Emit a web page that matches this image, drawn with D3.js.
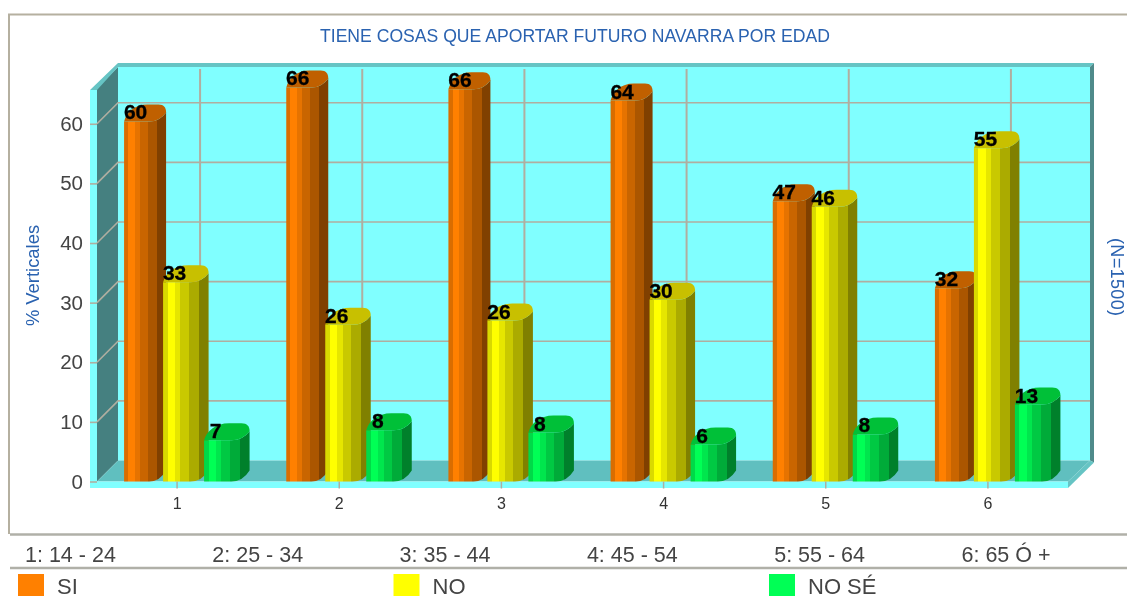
<!DOCTYPE html>
<html><head><meta charset="utf-8">
<script src="https://cdn.jsdelivr.net/npm/d3@7/dist/d3.min.js"></script>
<style>html,body{margin:0;padding:0;background:#fff;overflow:hidden}svg{display:block;filter:blur(.4px)}text{font-family:"Liberation Sans",Arial,sans-serif}</style>
</head><body><svg id="c" width="1127" height="596"></svg>
<script>
const title = "TIENE COSAS QUE APORTAR FUTURO NAVARRA POR EDAD";
const categories = ["1","2","3","4","5","6"];
const ageGroups = ["1: 14 - 24","2: 25 - 34","3: 35 - 44","4: 45 - 54","5: 55 - 64","6: 65 Ó +"];
const seriesNames = ["SI","NO","NO SÉ"];
const siValues = [60.4,66.1,65.8,63.9,47.0,32.4];
const noValues = [33.4,26.3,27.0,30.5,46.1,55.9];
const nsValues = [6.9,8.6,8.2,6.2,7.9,12.9];
const siLabels = [60,66,66,64,47,32];
const noLabels = [33,26,26,30,46,55];
const nsLabels = [7,8,8,6,8,13];
const yTicks = [0,10,20,30,40,50,60];
const seriesValues = [siValues,noValues,nsValues];
const seriesLabels = [siLabels,noLabels,nsLabels];
const seriesColors = ["#ff8000","#ffff00","#00ff55"];
const capColors = ["#c06000","#c8c000","#00c038"];

const svg = d3.select("#c");
const left=97, right=1068, y0=481.5, yTop=88, depth=21;
const x = d3.scaleBand().domain(categories).range([96,1069]);
const y = d3.scaleLinear().domain([0,66]).range([y0,yTop]);
const wallC="#80ffff", gridC="#b0aea0";
const poly=(pts,fill)=>svg.append("polygon").attr("points",pts.map(p=>p.join(",")).join(" ")).attr("fill",fill);

// frame
svg.append("path").attr("d","M9,534V14.5H1127").attr("fill","none").attr("stroke","#b5b0a0").attr("stroke-width",2);
[534.5,568].forEach(v=>svg.append("line").attr("x1",10).attr("x2",1127).attr("y1",v).attr("y2",v).attr("stroke","#b0b0a8").attr("stroke-width",2.5));

// 3D box
const bL=left+depth, bR=right+depth+1, bB=y0-depth, bT=yTop-depth;
poly([[bL,bT],[bR,bT],[bR,bB],[bL,bB]],wallC);
poly([[left,yTop],[bL,bT],[bL,bB],[left,y0]],"#458080");
poly([[left,y0],[bL,bB],[bR,bB],[right,y0]],"#60bfbf");
poly([[90,90],[bL,63],[bR+4,63],[bR,bT],[bL,bT],[left,yTop+2]],"#66c4c4");
poly([[90,90],[left,90],[left,y0],[right,y0],[right,488],[90,488]],wallC);
poly([[bR,bT],[bR+4,63],[bR+4,bB+2],[bR,bB]],"#4f8a8a");
poly([[right,y0],[bR,bB],[bR+4,bB+2],[right,488]],"#66c4c4");

// grid
const gridG=svg.append("g").attr("stroke",gridC).attr("stroke-width",2).attr("fill","none");
gridG.selectAll(".h").data(yTicks.filter(d=>d>0)).join("path")
  .attr("d",d=>`M${left},${y(d)}L${bL},${y(d)-depth}H${bR}`).attr("stroke-width",1.6);
gridG.selectAll(".v").data(categories).join("line")
  .attr("x1",d=>x(d)+x.bandwidth()/2+depth+2).attr("x2",d=>x(d)+x.bandwidth()/2+depth+2)
  .attr("y1",bT+2).attr("y2",bB);

// axes
const yAxis=svg.append("g").attr("transform",`translate(${left},0)`)
  .call(d3.axisLeft(y).tickValues(yTicks).tickSize(7).tickPadding(7));
yAxis.select(".domain").remove();
yAxis.selectAll("line").attr("stroke",gridC).attr("stroke-width",1.6);
yAxis.selectAll("text").attr("font-size",20.5).attr("fill","#444").style("font-family",'"Liberation Sans"');
const xAxis=svg.append("g").attr("transform",`translate(0,${y0})`)
  .call(d3.axisBottom(x).tickSize(7).tickPadding(9));
xAxis.select(".domain").remove();
xAxis.selectAll("line").attr("stroke",gridC).attr("stroke-width",1.5);
xAxis.selectAll("text").attr("font-size",16).attr("fill","#333").style("font-family",'"Liberation Sans"');

// bar gradients
const defs=svg.append("defs");
const bands=[[0,.85],[.1,1],[.26,.9],[.38,.79],[.57,.67],[.79,.5]];
seriesColors.forEach((c,i)=>{
  const g=defs.append("linearGradient").attr("id","bar"+i);
  bands.forEach((b,j)=>{
    const col=d3.rgb(c); const k=b[1];
    const s=`rgb(${col.r*k},${col.g*k},${col.b*k})`;
    g.append("stop").attr("offset",b[0]).attr("stop-color",s);
    const next=j<bands.length-1?bands[j+1][0]:1;
    g.append("stop").attr("offset",next).attr("stop-color",s);
  });
});

// bars
const barOffset=[-53,-14,27], barWidth=[42,45.5,45.5];
const xPos=(cat,s)=>x(cat)+x.bandwidth()/2+barOffset[s];
const labelG=[];
categories.forEach((cat,ci)=>{
  seriesValues.forEach((vals,s)=>{
    const x0=xPos(cat,s), w=barWidth[s], t=y(vals[ci]);
    svg.append("path").attr("fill",`url(#bar${s})`)
      .attr("d",`M${x0},${y0}V${t}H${x0+.6*w}Q${x0+.85*w},${t} ${x0+w},${t-9}V${y0-11}Q${x0+.85*w},${y0} ${x0+.6*w},${y0}Z`);
    svg.append("path").attr("fill",capColors[s])
      .attr("d",`M${x0},${t}C${x0+.05*w},${t-9} ${x0+.25*w},${t-17} ${x0+.55*w},${t-17}H${x0+.82*w}C${x0+.95*w},${t-17} ${x0+w},${t-14} ${x0+w},${t-9}Q${x0+.85*w},${t} ${x0+.6*w},${t}Z`);
    labelG.push({x:x0+11.5,y:t-2,l:seriesLabels[s][ci]});
  });
});
svg.append("g").selectAll("text").data(labelG).join("text")
  .attr("x",d=>d.x).attr("y",d=>d.y).attr("text-anchor","middle")
  .attr("font-size",21).attr("font-weight","bold").attr("fill","#000")
  .attr("stroke","#000").attr("stroke-width",.3).text(d=>d.l);

// titles
svg.append("text").attr("x",575).attr("y",42).attr("text-anchor","middle").attr("font-size",17.6).attr("fill","#2a62b0").text(title);
svg.append("text").attr("transform","translate(39,275.5) rotate(-90)").attr("text-anchor","middle").attr("font-size",18.4).attr("fill","#2a62b0").text("% Verticales");
svg.append("text").attr("transform","translate(1110.5,277) rotate(90)").attr("text-anchor","middle").attr("font-size",18).attr("textLength",78).attr("fill","#2a62b0").text("(N=1500)");

// age-group line
svg.append("g").selectAll("text").data(ageGroups).join("text")
  .attr("x",d=>25+ageGroups.indexOf(d)*187.3).attr("y",561.5).attr("font-size",21.5).attr("fill","#444").text(d=>d);

// legend
const legX=d3.scaleLinear().domain([0,1]).range([18,393.5]);
seriesNames.forEach((n,i)=>{
  svg.append("rect").attr("x",legX(i)).attr("y",574).attr("width",26).attr("height",26).attr("fill",seriesColors[i]);
  svg.append("text").attr("x",legX(i)+39).attr("y",594).attr("font-size",22).attr("fill","#444").text(n);
});
</script></body></html>
